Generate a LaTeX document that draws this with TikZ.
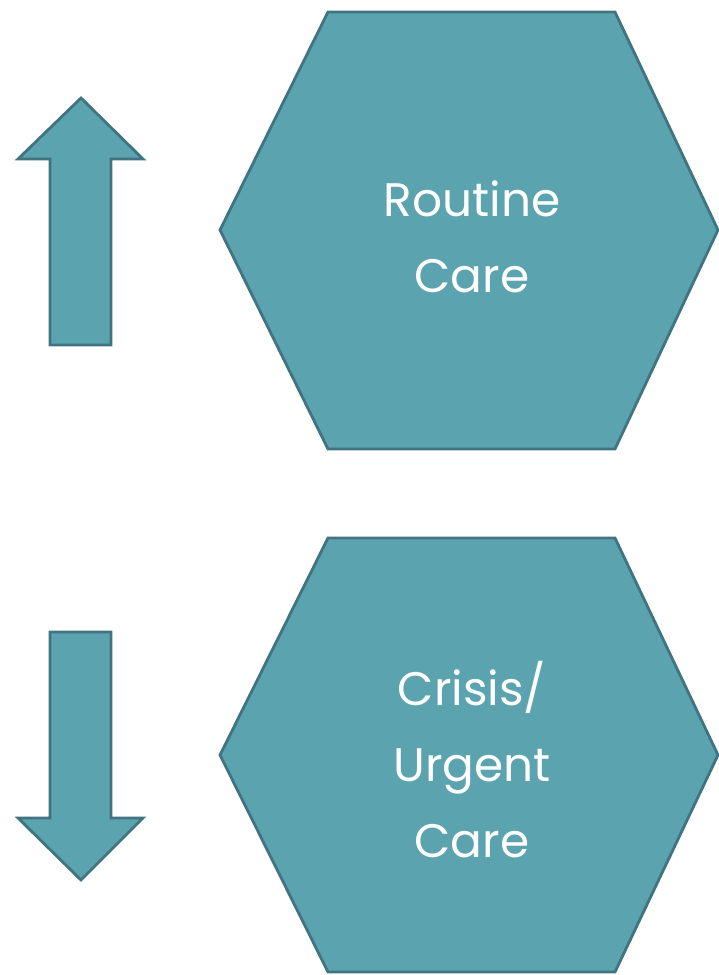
\documentclass[tikz,border=0pt]{standalone}
\usepackage{fontspec}
\setmainfont{Poppins}
\definecolor{hexfill}{HTML}{5BA3AF}
\definecolor{hexline}{HTML}{3F7480}
\begin{document}
\begin{tikzpicture}[x=1pt,y=-1pt,
  shapestyle/.style={fill=hexfill,draw=hexline,line width=2.8pt,line join=miter},
  label/.style={text=white,align=center,font=\fontsize{47}{76}\selectfont}]
\useasboundingbox (0,0) rectangle (719,975);
% up arrow
\draw[shapestyle] (81,98) -- (143,159) -- (111,159) -- (111,345) -- (50,345) -- (50,159) -- (18,159) -- cycle;
% down arrow
\draw[shapestyle] (50,632) -- (111,632) -- (111,818) -- (143,818) -- (81,880) -- (18,818) -- (50,818) -- cycle;
% top hexagon
\draw[shapestyle] (328,12) -- (615,12) -- (718,230) -- (615,449) -- (328,449) -- (220,230) -- cycle;
% bottom hexagon
\draw[shapestyle] (328,538) -- (615,538) -- (718,755) -- (615,972) -- (328,972) -- (220,755) -- cycle;
\node[label,anchor=base] (routine) at (472,292) {Routine\\Care};
\node[label,anchor=base] (crisis) at (472,857) {Crisis/\\Urgent\\Care};
\end{tikzpicture}
\end{document}
